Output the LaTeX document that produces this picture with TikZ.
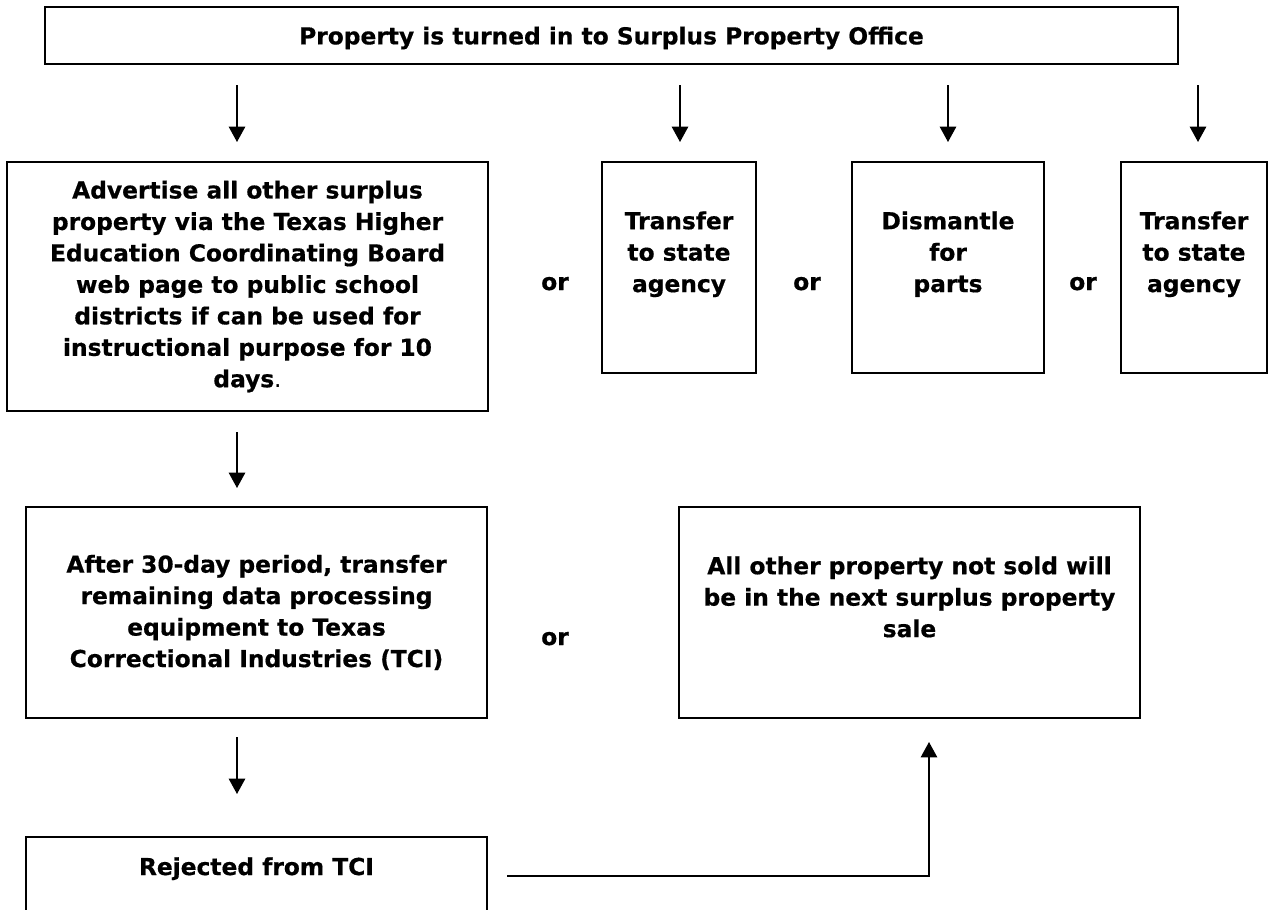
\documentclass[tikz,border=0pt]{standalone}
\usepackage{fontspec}
\setmainfont{DejaVu Sans}[BoldFeatures={FakeBold=0.6}]
\usetikzlibrary{arrows.meta}
\begin{document}
\begin{tikzpicture}[x=0.48pt, y=-0.48pt,
  font=\fontsize{11.2}{15.1}\selectfont\bfseries,
  box/.style={draw, line width=0.9pt, align=center, inner sep=0pt},
  ortxt/.style={anchor=base},
  arr/.style={line width=0.75pt, -{Triangle[length=7.4pt, width=7.9pt]}}]
\useasboundingbox (0,0) rectangle (1275,909);
\clip (0,0) rectangle (1275,909);
\node[box, minimum width=543.8pt, minimum height=27.4pt, text depth=0pt] (box0) at (611.5,35.5){Property is turned in to Surplus Property Office};
\node[box, minimum width=230.9pt, minimum height=119.5pt] (box1) at (247.5,286.5){Advertise all other surplus\\property via the Texas Higher\\Education Coordinating Board\\web page to public school\\districts if can be used for\\instructional purpose for 10\\days{\mdseries .}};
\node[box, minimum width=73.9pt, minimum height=101.3pt] (box2) at (679,267.5){Transfer\\to state\\agency\\~};
\node[box, minimum width=92.2pt, minimum height=101.3pt] (box3) at (948,267.5){Dismantle\\for\\parts\\~};
\node[box, minimum width=70.1pt, minimum height=101.3pt] (box4) at (1194,267.5){Transfer\\to state\\agency\\~};
\node[box, minimum width=221.3pt, minimum height=101.3pt] (box5) at (256.5,612.5){After 30-day period, transfer\\remaining data processing\\equipment to Texas\\Correctional Industries (TCI)};
\node[box, minimum width=221.3pt, minimum height=101.3pt] (box6) at (909.5,612.5){All other property not sold will\\be in the next surplus property\\sale\\~};
\node[box, minimum width=221.3pt, minimum height=101.3pt] (box7) at (256.5,942.5){};
\node[ortxt] (txt7) at (256.5,875){Rejected from TCI};
\node[ortxt] (or0) at (555,290){or};
\node[ortxt] (or1) at (807,290){or};
\node[ortxt] (or2) at (1083,290){or};
\node[ortxt] (or3) at (555,645){or};
% free standing arrows
\coordinate (p0) at (237,85);
\coordinate (p1) at (237,142);
\coordinate (p2) at (680,85);
\coordinate (p3) at (680,142);
\coordinate (p4) at (948,85);
\coordinate (p5) at (948,142);
\coordinate (p6) at (1198,85);
\coordinate (p7) at (1198,142);
\coordinate (p8) at (237,432);
\coordinate (p9) at (237,488);
\coordinate (p10) at (237,737);
\coordinate (p11) at (237,794);
\coordinate (p12) at (507,876);
\coordinate (p13) at (929,742);
\draw[arr](p0) -- (p1);
\draw[arr](p2) -- (p3);
\draw[arr](p4) -- (p5);
\draw[arr](p6) -- (p7);
\draw[arr](p8) -- (p9);
\draw[arr](p10) -- (p11);
\draw[arr](p12) -| (p13);
\end{tikzpicture}
\end{document}
